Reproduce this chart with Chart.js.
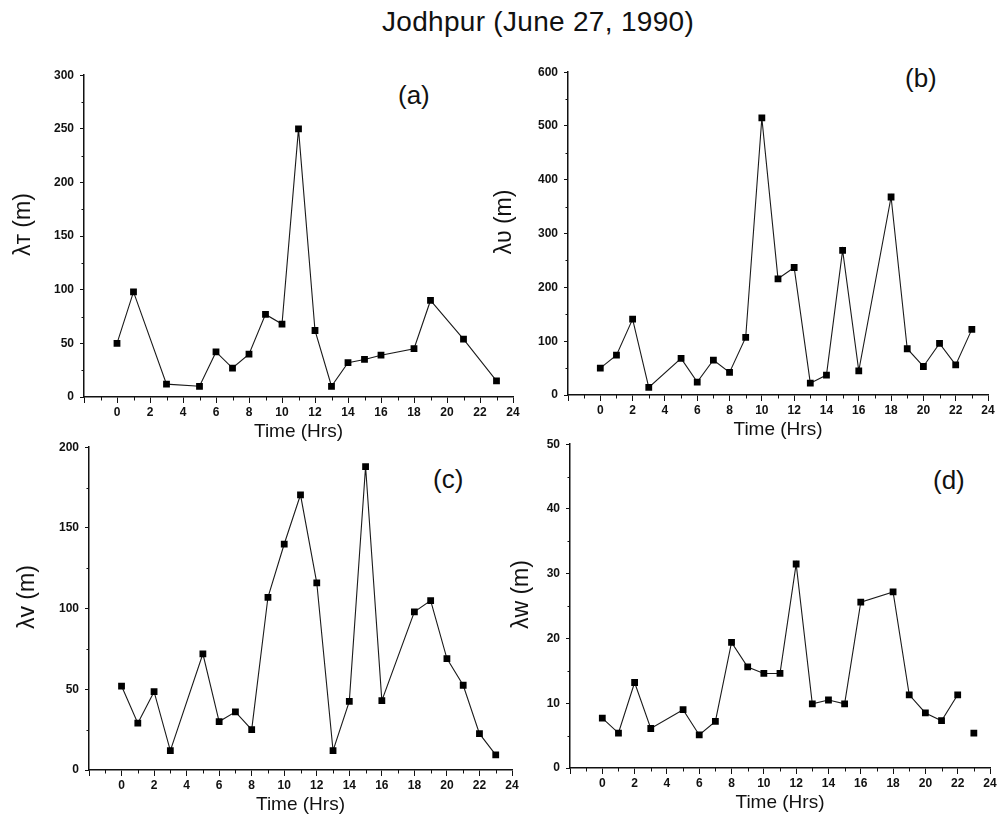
<!DOCTYPE html>
<html>
<head>
<meta charset="utf-8">
<script src="https://cdn.jsdelivr.net/npm/chart.js@4/dist/chart.umd.min.js"></script>
<style>
  html, body { margin: 0; padding: 0; background: #fff; }
  body { width: 998px; height: 819px; position: relative; overflow: hidden; font-family: "Liberation Sans", Arial, sans-serif; }
  canvas { position: absolute; }
  .title { position: absolute; left: 382px; top: 6px; font-size: 28px; letter-spacing: 0.3px; color: #111; white-space: nowrap; }
  .plab { position: absolute; font-size: 26px; color: #111; line-height: 30px; white-space: nowrap; }
</style>
</head>
<body>
<div class="title">Jodhpur (June 27, 1990)</div>
<div class="plab" style="left:398px; top:80px;">(a)</div>
<div class="plab" style="left:905px; top:63px;">(b)</div>
<div class="plab" style="left:433px; top:464px;">(c)</div>
<div class="plab" style="left:933px; top:465px;">(d)</div>
<canvas id="ca"></canvas>
<canvas id="cb"></canvas>
<canvas id="cc"></canvas>
<canvas id="cd"></canvas>
<script>
// ---- data ----
const hoursA  = [0,1,3,5,6,7,8,9,10,11,12,13,14,15,16,18,19,21,23];
const lambdaT = [50,98,12,10,42,27,40,77,68,250,62,10,32,35,39,45,90,54,15];
const hoursB  = [0,1,2,3,5,6,7,8,9,10,11,12,13,14,15,16,18,19,20,21,22,23];
const lambdaU = [50,74,141,14,68,24,65,42,107,515,216,237,22,37,269,45,368,86,53,96,56,122];
const hoursC  = [0,1,2,3,5,6,7,8,9,10,11,12,13,14,15,16,18,19,20,21,22,23];
const lambdaV = [52,29,48.5,12,72,30,36,25,107,140,170.5,116,12,42.5,188,43,98,105,69,52.5,22.5,9.4];
const hoursD  = [0,1,2,3,5,6,7,8,9,10,11,12,13,14,15,16,18,19,20,21,22,23];
const lambdaW = [7.7,5.4,13.2,6.1,9.0,5.1,7.2,19.4,15.6,14.6,14.6,31.5,9.9,10.5,9.9,25.6,27.2,11.3,8.5,7.3,11.3,5.4];
const xMin = -2, xMax = 24, xStep = 2;
const yMaxes = [300, 600, 200, 50];
const ySteps = [50, 100, 50, 10];
const yTitles = ['λᴛ (m)', 'λᴜ (m)', 'λᴠ (m)', 'λᴡ (m)'];
const xTitle = 'Time (Hrs)';

// ---- layout (style only) ----
const layouts = [
  { id: 'ca', L: 84,  T: 72,  R: 513, B: 397, tpad: 4 },
  { id: 'cb', L: 568, T: 69,  R: 988, B: 395, tpad: 1 },
  { id: 'cc', L: 89,  T: 444, R: 512, B: 770, tpad: 3 },
  { id: 'cd', L: 570, T: 441, R: 990, B: 768, tpad: 16 }
];
const series = [
  { x: hoursA, y: lambdaT },
  { x: hoursB, y: lambdaU },
  { x: hoursC, y: lambdaV },
  { x: hoursD, y: lambdaW }
];
const YW = 78, XH = 48, PT = 10, PR = 12, PB = 2;
const titleLead = '\u2002\u2002'; // shifts rotated y titles slightly upward as in the reference

const minorTicks = {
  id: 'minorTicks',
  afterDraw(chart, args, opts) {
    const ctx = chart.ctx, xs = chart.scales.x, ys = chart.scales.y;
    ctx.save();
    ctx.strokeStyle = '#111';
    ctx.lineWidth = 1;
    ctx.beginPath();
    for (let v = xMin + xStep / 2; v < xMax; v += xStep) {
      const px = Math.round(xs.getPixelForValue(v)) + 0.5;
      ctx.moveTo(px, xs.top);
      ctx.lineTo(px, xs.top + 3.5);
    }
    for (let v = opts.step / 2; v < opts.max; v += opts.step) {
      const py = Math.round(ys.getPixelForValue(v)) + 0.5;
      ctx.moveTo(ys.right - 2.5, py);
      ctx.lineTo(ys.right, py);
    }
    ctx.stroke();
    ctx.restore();
  }
};

layouts.forEach((lay, i) => {
  const cv = document.getElementById(lay.id);
  const w = (lay.R - lay.L) + YW + PR;
  const h = (lay.B - lay.T) + PT + XH + PB;
  cv.width = w; cv.height = h;
  cv.style.left = (lay.L - YW) + 'px';
  cv.style.top = (lay.T - PT) + 'px';
  cv.style.width = w + 'px'; cv.style.height = h + 'px';
  const pts = series[i].x.map((hx, k) => ({ x: hx, y: series[i].y[k] }));
  const lastX = series[i].x[series[i].x.length - 1];
  new Chart(cv, {
    type: 'line',
    data: { datasets: [{
      data: pts,
      borderColor: '#1a1a1a',
      borderWidth: 1.1,
      backgroundColor: '#000',
      pointStyle: 'rect',
      pointRadius: 4.8,
      pointBorderWidth: 0,
      pointBackgroundColor: '#000',
      tension: 0,
      segment: i === 3 ? { borderColor: c => (c.p1.parsed.x === lastX ? 'rgba(0,0,0,0)' : '#1a1a1a') } : undefined
    }]},
    options: {
      responsive: false,
      animation: false,
      devicePixelRatio: 1,
      layout: { padding: { top: PT, right: PR, bottom: PB, left: 0 } },
      plugins: { legend: { display: false }, tooltip: { enabled: false }, minorTicks: { step: ySteps[i], max: yMaxes[i] } },
      scales: {
        x: {
          type: 'linear', min: xMin, max: xMax,
          afterFit: s => { s.height = XH; },
          grid: { drawOnChartArea: false, drawTicks: true, tickLength: 6, tickColor: '#111', tickWidth: 1 },
          border: { display: true, color: '#111', width: 1.5 },
          ticks: {
            stepSize: xStep, autoSkip: false, maxRotation: 0, padding: 2,
            color: '#111', font: { family: 'Liberation Sans', size: 12, weight: 'bold' },
            callback: v => (v < 0 ? '' : String(v))
          },
          title: { display: true, text: xTitle, color: '#111', font: { family: 'Liberation Sans', size: 19 }, padding: { top: 0, bottom: 2 } }
        },
        y: {
          type: 'linear', min: 0, max: yMaxes[i],
          afterFit: s => { s.width = YW; },
          grid: { drawOnChartArea: false, drawTicks: true, tickLength: 4, tickColor: '#111', tickWidth: 1 },
          border: { display: true, color: '#111', width: 1.5 },
          ticks: { stepSize: ySteps[i], padding: 6, color: '#111', font: { family: 'Liberation Sans', size: 12, weight: 'bold' } },
          title: { display: true, text: titleLead + yTitles[i], color: '#111', font: { family: 'Liberation Sans', size: 23 }, padding: { top: lay.tpad, bottom: 0 } }
        }
      }
    },
    plugins: [minorTicks]
  });
});
</script>
</body>
</html>
